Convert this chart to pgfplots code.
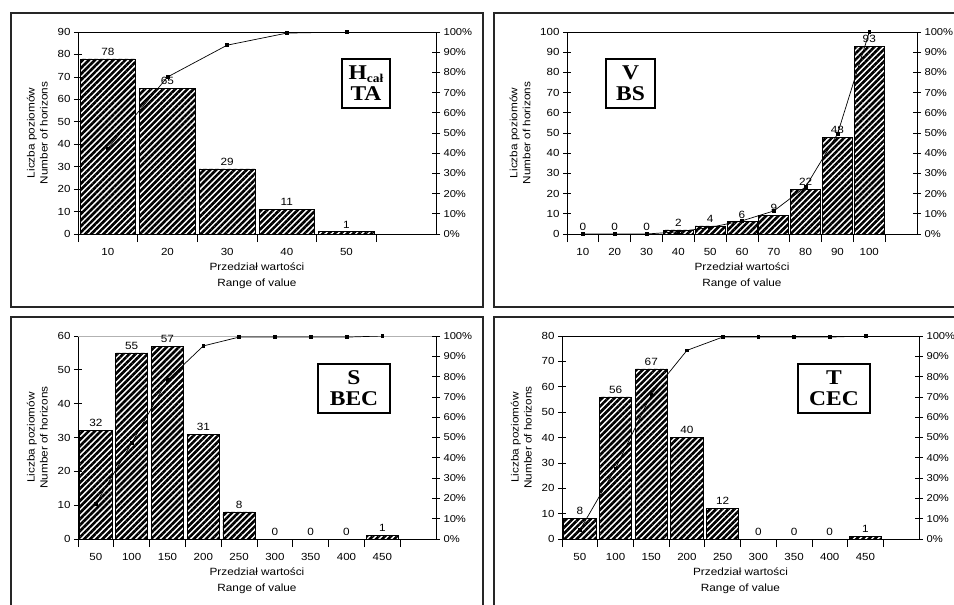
\documentclass[border=0pt]{standalone}
\usepackage{pgfplots}
\pgfplotsset{compat=1.18}
\usepackage{fontspec}
\setmainfont{Liberation Sans}[FakeStretch=1.12]
\newfontfamily\tnr{Liberation Serif}[FakeStretch=1.12]
\usetikzlibrary{patterns.meta}

\pgfplotsset{
  panel/.style={
    scale only axis, anchor=south west,
    xmin=0.5, ymin=0,
    tick align=center, major tick length=8pt, minor tick length=8pt,
    xtick pos=left, ytick pos=left,
    major x tick style={draw=none},
    tick style={black, line width=0.7pt},
    axis line style={black, line width=0.7pt},
    ticklabel style={font=\fontsize{10.3}{12}\selectfont},
    xticklabel style={yshift=-3pt},
    /pgf/number format/assume math mode=true,
    xlabel={Przedział wartości\\Range of value},
    ylabel={Liczba poziomów\\Number of horizons},
    ylabel shift=3pt,
    xlabel style={align=center, font=\fontsize{10.5}{16}\selectfont},
    ylabel style={align=center, font=\fontsize{10.5}{13}\selectfont},
    ybar, bar width=0.93,
    nodes near coords,
    every node near coord/.append style={font=\fontsize{10.5}{12}\selectfont, black},
  },
  cum/.style={
    scale only axis, anchor=south west,
    xmin=0.5, ymin=0, ymax=100,
    axis x line=none, axis y line*=right,
    ytick={0,10,...,100},
    yticklabel={\pgfmathprintnumber{\tick}\%},
    tick align=center, major tick length=8pt,
    tick style={black, line width=0.7pt},
    axis line style={black, line width=0.7pt},
    ticklabel style={font=\fontsize{10}{12}\selectfont},
    /pgf/number format/assume math mode=true,
  },
  hatchbar/.style={draw=black, line width=0.8pt, pattern={Lines[angle=45,distance=4.3pt,line width=2.6pt]}},
  cumline/.style={black, line width=0.7pt, mark=square*, mark size=1.4pt},
}
\tikzset{
  lbl/.style={draw=black, line width=1.6pt, fill=white, align=center,
    inner sep=1pt, font=\tnr\bfseries\fontsize{21}{21}\selectfont},
}

\begin{document}
\begin{tikzpicture}
\useasboundingbox (0pt,0pt) rectangle (954pt,-605pt);
% panel frames
\draw[line width=1.5pt, black!85] (11pt,-13pt) rectangle (483pt,-307pt);
\draw[line width=1.5pt, black!85] (494pt,-13pt) rectangle (964pt,-307pt);
\draw[line width=1.5pt, black!85] (11pt,-317pt) rectangle (483pt,-615pt);
\draw[line width=1.5pt, black!85] (494pt,-317pt) rectangle (964pt,-615pt);

% ---------- Top left: H_cal TA ----------
\begin{axis}[panel, at={(78pt,-234pt)}, width=358pt, height=202pt,
  xmax=6.5, ymax=90, ytick={0,10,...,90},
  xtick={1,...,5}, xticklabels={10,20,30,40,50},
  minor xtick={0.5,1.5,...,5.5}]
\addplot[hatchbar] coordinates {(1,78) (2,65) (3,29) (4,11) (5,1)};
\end{axis}
\begin{axis}[cum, at={(78pt,-234pt)}, width=358pt, height=202pt, xmax=6.5]
\addplot[cumline] coordinates {(1,42.39) (2,77.72) (3,93.48) (4,99.46) (5,100)};
\end{axis}

% ---------- Top right: V BS ----------
\begin{axis}[panel, at={(567pt,-234pt)}, width=350pt, height=202pt,
  xmax=11.5, ymax=100, ytick={0,10,...,100}, bar width=0.94,
  xtick={1,...,10}, xticklabels={10,20,30,40,50,60,70,80,90,100},
  minor xtick={0.5,1.5,...,10.5}]
\addplot[hatchbar] coordinates {(1,0) (2,0) (3,0) (4,2) (5,4) (6,6) (7,9) (8,22) (9,48) (10,93)};
\end{axis}
\begin{axis}[cum, at={(567pt,-234pt)}, width=350pt, height=202pt, xmax=11.5]
\addplot[cumline] coordinates {(1,0) (2,0) (3,0) (4,1.09) (5,3.26) (6,6.52) (7,11.41) (8,23.37) (9,49.46) (10,100)};
\end{axis}

% ---------- Bottom left: S BEC ----------
\begin{axis}[panel, at={(78pt,-539pt)}, width=358pt, height=203pt,
  xmax=10.5, ymax=60, ytick={0,10,...,60}, bar width=0.9,
  xtick={1,...,9}, xticklabels={50,100,150,200,250,300,350,400,450},
  minor xtick={0.5,1.5,...,9.5}]
\draw[gray!60, line width=1.1pt] (axis cs:0.5,60) -- (axis cs:10.5,60);
\addplot[hatchbar] coordinates {(1,32) (2,55) (3,57) (4,31) (5,8) (6,0) (7,0) (8,0) (9,1)};
\end{axis}
\begin{axis}[cum, at={(78pt,-539pt)}, width=358pt, height=203pt, xmax=10.5]
\addplot[cumline] coordinates {(1,17.39) (2,47.28) (3,78.26) (4,95.11) (5,99.46) (6,99.46) (7,99.46) (8,99.46) (9,100)};
\end{axis}

% ---------- Bottom right: T CEC ----------
\begin{axis}[panel, at={(562pt,-539pt)}, width=357pt, height=203pt,
  xmax=10.5, ymax=80, ytick={0,10,...,80}, bar width=0.9,
  xtick={1,...,9}, xticklabels={50,100,150,200,250,300,350,400,450},
  minor xtick={0.5,1.5,...,9.5}]
\addplot[hatchbar] coordinates {(1,8) (2,56) (3,67) (4,40) (5,12) (6,0) (7,0) (8,0) (9,1)};
\end{axis}
\begin{axis}[cum, at={(562pt,-539pt)}, width=357pt, height=203pt, xmax=10.5]
\addplot[cumline] coordinates {(1,4.35) (2,34.78) (3,71.20) (4,92.93) (5,99.46) (6,99.46) (7,99.46) (8,99.46) (9,100)};
\end{axis}

% ---------- label boxes ----------
\node[lbl, minimum width=48pt, minimum height=49pt] at (366pt,-83.5pt)
  {H\raisebox{-0.3ex}{\fontsize{12}{12}\selectfont cał}\\TA};
\node[lbl, minimum width=49pt, minimum height=49pt] at (630.5pt,-83.5pt) {V\\BS};
\node[lbl, minimum width=72pt, minimum height=49pt] at (354pt,-388.5pt) {S\\BEC};
\node[lbl, minimum width=72pt, minimum height=49pt] at (834pt,-388.5pt) {T\\CEC};
\end{tikzpicture}
\end{document}
